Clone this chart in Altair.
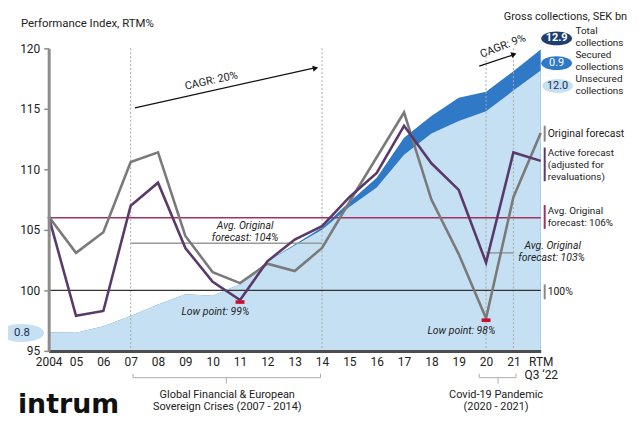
import json
import altair as alt
import pandas as pd

# ---------------- data ----------------
years = list(range(2004, 2023))  # 2022 = RTM Q3 '22
tick_labels = ["2004", "05", "06", "07", "08", "09", "10", "11", "12", "13",
               "14", "15", "16", "17", "18", "19", "20", "21", "RTM"]
original_forecast = [106.1, 103.1, 104.8, 110.6, 111.4, 104.5, 101.5, 100.6, 102.2, 101.6,
                     103.5, 107.3, 111.0, 114.7, 107.5, 103.0, 97.7, 107.7, 113.0]
active_forecast = [106.1, 97.9, 98.3, 107.0, 108.9, 103.5, 100.7, 99.2, 102.4, 104.2,
                   105.3, 107.7, 109.7, 113.6, 110.5, 108.3, 102.3, 111.4, 110.7]
unsecured_bn = [0.80, 0.78, 1.06, 1.49, 1.99, 2.42, 2.36, 2.85, 3.83, 4.51,
                5.18, 6.16, 6.99, 8.39, 9.30, 9.84, 10.26, 11.14, 12.0]
total_bn = [0.80, 0.78, 1.06, 1.49, 1.99, 2.42, 2.36, 2.85, 3.83, 4.55,
            5.28, 6.37, 7.41, 9.12, 10.05, 10.83, 11.09, 11.97, 12.9]
avg_all = 106
avg_gfc = 103.9
avg_covid = 103.1
gfc_years = [2007, 2014]
covid_years = [2020, 2021]
y_ticks = [95, 100, 105, 110, 115, 120]

# ---------------- layout / style ----------------
W, H = 496, 305
X0, Y0 = 49, 47          # page position of plot origin
FONT = "Roboto"
TXT = "#222222"
GREY = "#7a7a7a"
PURPLE = "#5a3a6a"
CRIMSON = "#a3305e"
LIGHT = "#c6e0f3"
MID = "#3079c6"
NAVY = "#1f3e70"
LEG = 10.5

df = pd.DataFrame({"year": years, "original": original_forecast, "active": active_forecast,
                   "unsecured": unsecured_bn, "total": total_bn})

label_expr = ("datum.value == 2022 ? ['RTM', 'Q3 \u201822'] : "
              + json.dumps(tick_labels) + "[datum.value - 2004]")

XS = alt.Scale(domain=[2004, 2022], nice=False, zero=False)
XAX = alt.Axis(values=years, labelExpr=label_expr, title=None, ticks=False,
               domainColor="#4d4d4d", domainWidth=3, labelFont=FONT, labelFontSize=12,
               labelColor=TXT, labelPadding=6, labelFlush=False, labelOverlap=False,
               labelLineHeight=13, labelBaseline="top", grid=False, zindex=2)
YS = alt.Scale(domain=[95, 120], nice=False, zero=False)
YAX = alt.Axis(values=y_ticks, title=None, domainColor="#8c8c8c", domainWidth=3,
               tickColor="#8c8c8c", tickSize=5, tickWidth=1.5, labelFont=FONT,
               labelFontSize=12, labelColor=TXT, labelPadding=4, grid=False, zindex=2)
BS = alt.Scale(domain=[0, 12.95], nice=False, zero=True)


def X(field="year"):
    return alt.X(f"{field}:Q", scale=XS, axis=XAX)


def Y(field):
    return alt.Y(f"{field}:Q", scale=YS, axis=YAX)


ONE = pd.DataFrame({"k": [0]})


def T(px, py, text, size=LEG, align="left", color=TXT, weight="normal", style="normal",
      angle=0, font=FONT, baseline="middle"):
    return alt.Chart(ONE).mark_text(text=text, fontSize=size, align=align, baseline=baseline,
                                    color=color, fontWeight=weight, fontStyle=style,
                                    angle=angle, font=font).encode(
        x=alt.value(px - X0), y=alt.value(py - Y0))


def R(px1, py1, px2, py2, color="#aaaaaa", width=1.0):
    return alt.Chart(ONE).mark_rule(color=color, strokeWidth=width).encode(
        x=alt.value(px1 - X0), x2=alt.value(px2 - X0),
        y=alt.value(py1 - Y0), y2=alt.value(py2 - Y0))


def ellipse_path(b):
    k = 0.5523
    return (f"M-1,0C-1,{-k*b:.4f},{-k:.4f},{-b:.4f},0,{-b:.4f}"
            f"C{k:.4f},{-b:.4f},1,{-k*b:.4f},1,0"
            f"C1,{k*b:.4f},{k:.4f},{b:.4f},0,{b:.4f}"
            f"C{-k:.4f},{b:.4f},-1,{k*b:.4f},-1,0Z")


def E(px, py, width, ratio, color):
    return alt.Chart(ONE).mark_point(shape=ellipse_path(ratio), filled=True, size=width * width,
                                     color=color, opacity=1, strokeWidth=0).encode(
        x=alt.value(px - X0), y=alt.value(py - Y0))


def ARROWHEAD(px, py, angle):
    return alt.Chart(ONE).mark_point(shape="triangle-right", filled=True, size=40,
                                     color="#111111", opacity=1, angle=angle).encode(
        x=alt.value(px - X0), y=alt.value(py - Y0))


# ---------------- collections areas (SEK bn) ----------------
area_total = alt.Chart(df).mark_area(color=MID, opacity=1).encode(
    x=X(), y=alt.Y("total:Q", scale=BS, axis=None))
area_unsec = alt.Chart(df).mark_area(color=LIGHT, opacity=1).encode(
    x=X(), y=alt.Y("unsecured:Q", scale=BS, axis=None))
areas = alt.layer(area_total, area_unsec)

# ---------------- index layers ----------------
vlines = alt.Chart(pd.DataFrame({"year": gfc_years + covid_years})).mark_rule(
    color="#a8a8a8", strokeWidth=1, strokeDash=[2, 2]).encode(x=X())
ref100 = alt.Chart(pd.DataFrame({"val": [100]})).mark_rule(color="#333333", strokeWidth=1.5).encode(y=Y("val"))
ref106 = alt.Chart(pd.DataFrame({"val": [avg_all]})).mark_rule(color=CRIMSON, strokeWidth=1.3).encode(y=Y("val"))
avg_seg = alt.Chart(pd.DataFrame({"year": [gfc_years[0], covid_years[0]],
                                  "year2": [gfc_years[1], covid_years[1]],
                                  "val": [avg_gfc, avg_covid]})).mark_rule(
    color="#9a9a9a", strokeWidth=1.6).encode(x=X(), x2="year2:Q", y=Y("val"))
line_orig = alt.Chart(df).mark_line(color=GREY, strokeWidth=2.6).encode(x=X(), y=Y("original"))
line_act = alt.Chart(df).mark_line(color=PURPLE, strokeWidth=2.6).encode(x=X(), y=Y("active"))
lows = pd.DataFrame({"year": [2011, 2020],
                     "val": [active_forecast[years.index(2011)], original_forecast[years.index(2020)]]})
low_marks = alt.Chart(lows).mark_point(shape="M-1,-0.4H1V0.4H-1Z", filled=True, size=81,
                                       color="#c8102e", opacity=1, strokeWidth=0).encode(
    x=X(), y=Y("val"), yOffset=alt.value(2))

annotations = [
    T(21, 23, "Performance Index, RTM%", size=11.5),
    # CAGR arrows
    R(136, 107, 316, 67, "#111111", 1.3), ARROWHEAD(318, 67, 347.6),
    T(213, 80, "CAGR: 20%", size=11, align="center", angle=347.6),
    R(483, 65, 516, 54, "#111111", 1.3), ARROWHEAD(518, 53, 341),
    T(507, 45, "CAGR: 9%", size=11, align="center", angle=339),
    # right legend
    T(632, 15, "Gross collections, SEK bn", size=11, align="right"),
    E(561, 37, 31, 0.45, NAVY), T(561, 37, "12.9", size=11, align="center", color="white", weight="bold"),
    E(561, 62, 31, 0.45, MID), T(561, 62, "0.9", size=11, align="center", color="white"),
    E(562, 85, 31, 0.45, LIGHT), T(562, 85, "12.0", size=11, align="center", color="#1d2d50"),
    T(580, 30, "Total", size=10), T(580, 42, "collections", size=10),
    T(580, 54, "Secured", size=10), T(580, 66, "collections", size=10),
    T(580, 78, "Unsecured", size=10), T(580, 90, "collections", size=10),
    R(549, 125, 549, 141, "#888888", 2), T(552, 133, "Original forecast"),
    R(549, 147, 549, 181, PURPLE, 2), T(552, 153, "Active forecast", size=10),
    T(552, 165, "(adjusted for", size=10), T(552, 177, "revaluations)", size=10),
    R(549, 205, 549, 229, CRIMSON, 2), T(552, 211, "Avg. Original", size=10),
    T(552, 223, "forecast: 106%", size=10),
    R(549, 285, 549, 300, "#888888", 2), T(552, 293, "100%"),
    # in-plot labels
    T(247, 226, "Avg. Original", size=10.5, align="center", style="italic"),
    T(247, 238, "forecast: 104%", size=10.5, align="center", style="italic"),
    T(557, 246, "Avg. Original", size=10.5, align="center", style="italic"),
    T(556, 258, "forecast: 103%", size=10.5, align="center", style="italic"),
    T(217, 313, "Low point: 99%", align="center", style="italic"),
    T(465, 332, "Low point: 98%", align="center", style="italic"),
    E(22, 334, 45, 0.4, LIGHT), T(22, 334, "0.8", size=11.5, align="center", color="#1d2d50"),
    # brackets
    R(134, 379, 323, 379), R(134, 375, 134, 379), R(323, 375, 323, 379), R(228, 379, 228, 385),
    R(483, 379, 520, 379), R(483, 375, 483, 379), R(520, 375, 520, 379), R(502, 379, 502, 385),
    T(229, 396, "Global Financial & European", size=11, align="center"),
    T(229, 409, "Sovereign Crises (2007 - 2014)", size=11, align="center"),
    T(500, 396, "Covid-19 Pandemic", size=11, align="center"),
    T(500, 409, "(2020 - 2021)", size=11, align="center"),
    T(18, 415, "intrum", size=27, weight="bold", font="DejaVu Sans", baseline="alphabetic", color="#111111"),
]

index_layers = alt.layer(vlines, ref106, ref100, avg_seg, line_orig, line_act, low_marks, *annotations)

chart = alt.layer(areas, index_layers).resolve_scale(y="independent").properties(
    width=W, height=H,
    autosize=alt.AutoSizeParams(type="none"),
    padding={"left": 41, "top": 39, "right": 92, "bottom": 66},
    background="white",
).configure_view(stroke=None)

chart.save("out.html", embed_options={"renderer": "svg", "actions": False})
